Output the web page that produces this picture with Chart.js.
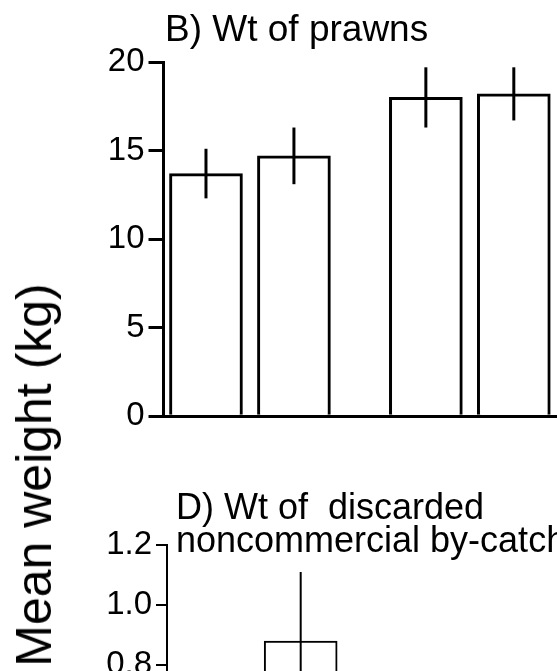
<!DOCTYPE html>
<html>
<head>
<meta charset="utf-8">
<script src="https://cdn.jsdelivr.net/npm/chart.js@4/dist/chart.umd.min.js"></script>
<style>
html, body { margin:0; padding:0; background:#fff; overflow:hidden; width:557px; height:671px; }
body { position:relative; font-family:"Liberation Sans", Arial, sans-serif; color:#000; }
canvas { position:absolute; left:0; }
#prawnChart { top:0; }
#bycatchChart { top:440px; }
.ttl { position:absolute; white-space:pre; }
#ttlB { left:165px; top:10px; font-size:37px; line-height:37px; }
#ttlD { left:176px; top:490px; font-size:36px; line-height:33px; }
#ylab { position:absolute; left:34px; top:475px; font-size:50px; line-height:50px; white-space:nowrap;
  transform:translate(-50%,-50%) rotate(-90deg); }
</style>
</head>
<body>
<canvas id="prawnChart" width="700" height="440"></canvas>
<canvas id="bycatchChart" width="700" height="520"></canvas>
<div class="ttl" id="ttlB">B) Wt of prawns</div>
<div class="ttl" id="ttlD">D) Wt of  discarded
noncommercial by-catch</div>
<div id="ylab">Mean weight (kg)</div>
<script>
// bars come in two pairs, labels are cut off in the scan
const categories = ['1', '2', '3', '4'];
const pairOf = [0, 0, 1, 1];

const prawnMeans = [13.7, 14.7, 18.0, 18.2];
const prawnErrors = [1.4, 1.6, 1.7, 1.5];
const prawnTicks = [0, 5, 10, 15, 20];

// only the second bar reaches into the visible part of panel D
const bycatchMeans = [null, 0.88, null, null];
const bycatchErrors = [null, 0.23, null, null];
const bycatchTicks = [0, 0.2, 0.4, 0.6, 0.8, 1.0, 1.2];

Chart.defaults.font.family = '"Liberation Sans", Arial, sans-serif';
Chart.defaults.color = '#000';

const errorBars = {
  id: 'errorBars',
  afterDatasetsDraw(chart, args, opts) {
    const ctx = chart.ctx;
    const yScale = chart.scales.y;
    const meta = chart.getDatasetMeta(0);
    ctx.save();
    ctx.strokeStyle = '#000';
    ctx.lineWidth = opts.width;
    meta.data.forEach((bar, i) => {
      const v = chart.data.datasets[0].data[i].y;
      const e = opts.errors[i];
      if (v == null || e == null) return;
      ctx.beginPath();
      ctx.moveTo(bar.x, yScale.getPixelForValue(v + e));
      ctx.lineTo(bar.x, yScale.getPixelForValue(v - e));
      ctx.stroke();
    });
    ctx.restore();
  }
};

function points(means) {
  return categories.map((c, i) => ({ x: i + 1 + 0.5 * pairOf[i], y: means[i] }));
}

function makeChart(id, means, errors, ticks, o) {
  return new Chart(document.getElementById(id), {
    type: 'bar',
    data: {
      labels: categories,
      datasets: [{
        data: points(means),
        backgroundColor: '#fff',
        borderColor: '#000',
        borderWidth: o.lw,
        borderSkipped: 'start',
        barThickness: 73
      }]
    },
    options: {
      responsive: false,
      animation: false,
      layout: { padding: o.pad },
      plugins: {
        legend: { display: false },
        title: { display: false },
        tooltip: { enabled: false },
        errorBars: { errors: errors, width: o.lw }
      },
      scales: {
        x: {
          type: 'linear',
          min: o.xmin,
          max: o.xmin + 6.1,
          offset: false,
          display: o.showBase,
          ticks: { display: false },
          grid: { display: false, drawTicks: false },
          border: { display: true, color: '#000', width: o.lw },
          afterFit(s) { s.height = 0; }
        },
        y: {
          min: ticks[0],
          max: ticks[ticks.length - 1],
          afterBuildTicks(s) { s.ticks = ticks.map(v => ({ value: v })); },
          ticks: {
            font: { size: 33 },
            padding: 4,
            callback: v => o.decimals ? v.toFixed(1) : String(v)
          },
          grid: { drawOnChartArea: false, drawTicks: true, tickLength: o.tick, color: '#000', lineWidth: o.lw },
          border: { display: true, color: '#000', width: o.lw },
          afterFit(s) { s.width = 60; }
        }
      }
    },
    plugins: [errorBars]
  });
}

makeChart('prawnChart', prawnMeans, prawnErrors, prawnTicks,
  { pad: { left: 103.5, top: 62, bottom: 23, right: 0 }, xmin: 0.517, lw: 3, tick: 15, decimals: false, showBase: true });

makeChart('bycatchChart', bycatchMeans, bycatchErrors, bycatchTicks,
  { pad: { left: 107, top: 105, bottom: 55, right: 0 }, xmin: 0.47, lw: 2, tick: 11, decimals: true, showBase: false });
</script>
</body>
</html>
